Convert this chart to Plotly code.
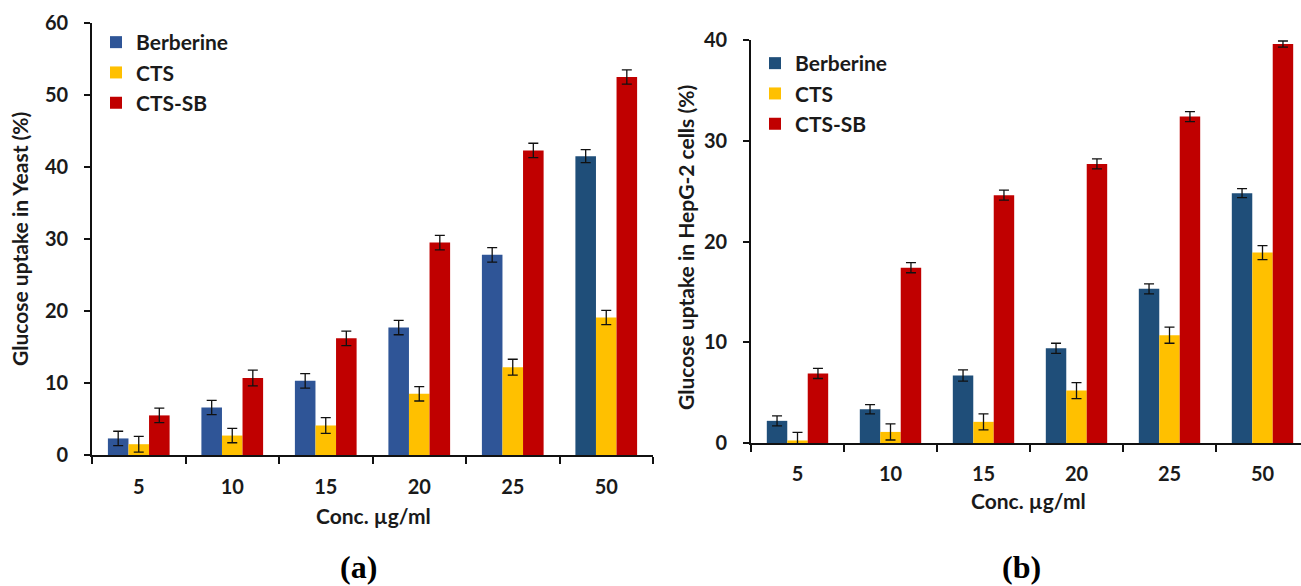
import plotly.graph_objects as go

# ---- data ----
conc = ["5", "10", "15", "20", "25", "50"]

yeast_berberine = [2.3, 6.6, 10.3, 17.7, 27.8, 41.5]
yeast_berberine_err = [1.0, 1.0, 1.0, 1.0, 1.0, 0.9]
yeast_cts = [1.5, 2.7, 4.1, 8.5, 12.2, 19.1]
yeast_cts_err = [1.1, 1.0, 1.1, 1.0, 1.1, 1.0]
yeast_ctssb = [5.5, 10.7, 16.2, 29.5, 42.3, 52.5]
yeast_ctssb_err = [1.0, 1.1, 1.0, 1.0, 1.0, 1.0]

hepg2_berberine = [2.2, 3.35, 6.7, 9.4, 15.3, 24.8]
hepg2_berberine_err = [0.5, 0.45, 0.55, 0.5, 0.5, 0.45]
hepg2_cts = [0.25, 1.1, 2.1, 5.2, 10.7, 18.9]
hepg2_cts_err = [0.8, 0.8, 0.8, 0.8, 0.8, 0.7]
hepg2_ctssb = [6.9, 17.4, 24.6, 27.7, 32.4, 39.6]
hepg2_ctssb_err = [0.5, 0.5, 0.5, 0.5, 0.5, 0.3]

series_names = ["Berberine", "CTS", "CTS-SB"]

BLUE_A = "#2F5597"
BLUE_DARK = "#1F4E79"
YELLOW = "#FFC000"
RED = "#C00000"
yeast_blue_colors = [BLUE_A, BLUE_A, BLUE_A, BLUE_A, BLUE_A, BLUE_DARK]

FONT = "Lato"
TXT = "#1a1a1a"

W, H = 1301, 586


def err(vals):
    return dict(type="data", array=vals, visible=True, color="#111111",
                thickness=1.3, width=5)


fig = go.Figure()

left_sets = [
    (yeast_berberine, yeast_berberine_err, yeast_blue_colors),
    (yeast_cts, yeast_cts_err, YELLOW),
    (yeast_ctssb, yeast_ctssb_err, RED),
]
right_sets = [
    (hepg2_berberine, hepg2_berberine_err, BLUE_DARK),
    (hepg2_cts, hepg2_cts_err, YELLOW),
    (hepg2_ctssb, hepg2_ctssb_err, RED),
]

for name, (vals, e, col) in zip(series_names, left_sets):
    fig.add_trace(go.Bar(x=conc, y=vals, name=name, marker=dict(color=col, line=dict(width=0)),
                         error_y=err(e), xaxis="x", yaxis="y", legend="legend",
                         legendgroup="L" + name))
for name, (vals, e, col) in zip(series_names, right_sets):
    fig.add_trace(go.Bar(x=conc, y=vals, name=name, marker=dict(color=col, line=dict(width=0)),
                         error_y=err(e), xaxis="x2", yaxis="y2", legend="legend2",
                         legendgroup="R" + name))

tickfont = dict(family=FONT, size=20, color=TXT, weight="bold")
axis_common = dict(showline=True, linecolor="#111111", linewidth=1.6, ticks="outside",
                   tickcolor="#111111", tickwidth=1.6, showgrid=False, zeroline=False,
                   tickfont=tickfont)
legfont = dict(family=FONT, size=21, color=TXT, weight="bold")
titlefont = dict(family=FONT, size=21, color=TXT, weight="bold")

fig.update_layout(
    width=W, height=H,
    margin=dict(l=0, r=0, t=0, b=0, autoexpand=False),
    paper_bgcolor="white", plot_bgcolor="white",
    barmode="group", bargap=0.34, bargroupgap=0,
    xaxis=dict(domain=[92 / W, 653 / W], range=[-0.5, 5.5], type="category",
               tickson="boundaries", ticklen=7, anchor="y", ticklabelstandoff=13,
               **axis_common),
    yaxis=dict(domain=[1 - 455 / H, 1 - 23 / H], range=[0, 60], dtick=10, ticklen=6,
               anchor="x", ticklabelstandoff=12, **axis_common),
    xaxis2=dict(domain=[751 / W, 1.0], range=[-0.5, 5.5 - 8 / 93], type="category",
                tickson="boundaries", ticklen=7, anchor="y2", ticklabelstandoff=12,
                **axis_common),
    yaxis2=dict(domain=[1 - 443 / H, 1 - 40 / H], range=[0, 40], dtick=10, ticklen=6,
                anchor="x2", ticklabelstandoff=12, **axis_common),
    legend=dict(x=96 / W, y=1 - 22 / H, xanchor="left", yanchor="top",
                font=legfont, bgcolor="rgba(0,0,0,0)", traceorder="grouped",
                tracegroupgap=0, itemwidth=30),
    legend2=dict(x=755 / W, y=1 - 43 / H, xanchor="left", yanchor="top",
                 font=legfont, bgcolor="rgba(0,0,0,0)", traceorder="grouped",
                 tracegroupgap=0, itemwidth=30),
)

annos = [
    dict(text="Glucose uptake in Yeast (%)", x=20 / W, y=1 - 239 / H, textangle=-90,
         font=titlefont),
    dict(text="Glucose uptake in HepG-2 cells (%)", x=685 / W, y=1 - 248 / H, textangle=-90,
         font=titlefont),
    dict(text="Conc. µg/ml", x=373 / W, y=1 - 515 / H, font=titlefont),
    dict(text="Conc. µg/ml", x=1028 / W, y=1 - 500 / H, font=titlefont),
    dict(text="(a)", x=358 / W, y=1 - 567 / H,
         font=dict(family="Liberation Serif", size=32, color="#000000", weight="bold")),
    dict(text="(b)", x=1021 / W, y=1 - 567 / H,
         font=dict(family="Liberation Serif", size=32, color="#000000", weight="bold")),
]
for a in annos:
    fig.add_annotation(xref="paper", yref="paper", showarrow=False,
                       xanchor="center", yanchor="middle", **a)

fig.write_html("out.html", config={"displayModeBar": False},
               post_script="document.body.style.margin='0';document.body.style.overflow='hidden';")
